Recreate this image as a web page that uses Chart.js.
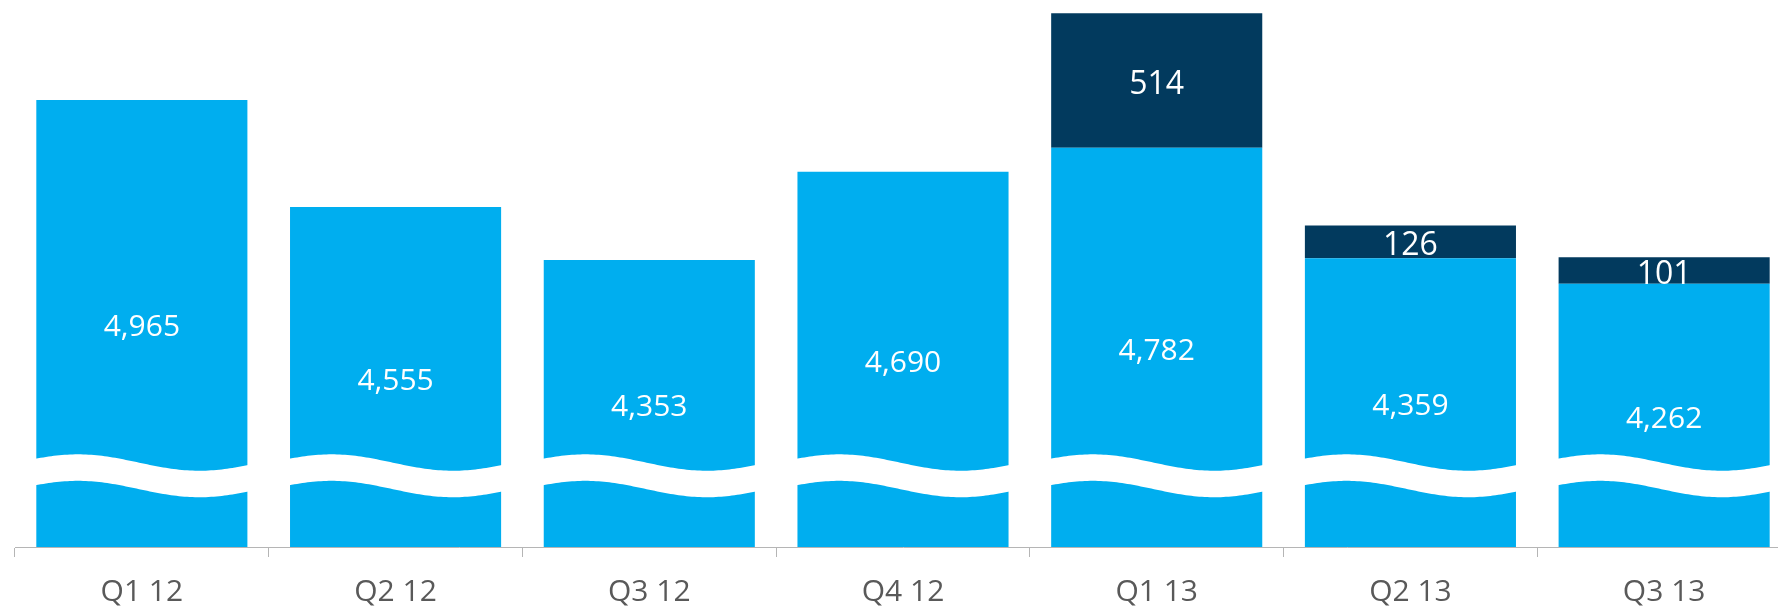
<!DOCTYPE html>
<html>
<head>
<meta charset="utf-8">
<script src="https://cdn.jsdelivr.net/npm/chart.js@4"></script>
<style>
  html, body { margin: 0; padding: 0; background: #ffffff; overflow: hidden; width: 1778px; height: 608px; }
  #wrap { position: absolute; left: 0; top: 0; width: 1800px; height: 640px; }
  canvas { display: block; }
</style>
</head>
<body>
<div id="wrap"><canvas id="c" width="1800" height="640"></canvas></div>
<script>
// ---- data ----
const categories = ['Q1 12', 'Q2 12', 'Q3 12', 'Q4 12', 'Q1 13', 'Q2 13', 'Q3 13'];
const baseValues = [4965, 4555, 4353, 4690, 4782, 4359, 4262];
const extraValues = [null, null, null, null, 514, 126, 101];
const axisMin = 3255;
const axisMax = 5347;
const breakValue = 3578; // where the wavy axis break sits (broken axis)

const fmt = v => v.toLocaleString('en-US');

const breakPlugin = {
  id: 'breakWaveAndLabels',
  afterDatasetsDraw(chart) {
    const ctx = chart.ctx;
    const yScale = chart.scales.y;
    const area = chart.chartArea;
    const yc = yScale.getPixelForValue(breakValue);
    const A = 8.2, thick = 26.5;
    const wave = t => yc - A * Math.cos(Math.PI * (t - 0.2) / 0.57);
    ctx.save();
    // white wavy break band across base bars
    ctx.fillStyle = '#ffffff';
    chart.getDatasetMeta(0).data.forEach(bar => {
      const p = bar.getProps(['x', 'width'], true);
      const x0 = p.x - p.width / 2 - 1, x1 = p.x + p.width / 2 + 1;
      const N = 80;
      ctx.beginPath();
      for (let i = 0; i <= N; i++) {
        const t = i / N;
        const px = x0 + t * (x1 - x0);
        const py = wave(t);
        if (i === 0) ctx.moveTo(px, py); else ctx.lineTo(px, py);
      }
      for (let i = N; i >= 0; i--) {
        const t = i / N;
        ctx.lineTo(x0 + t * (x1 - x0), wave(t) + thick);
      }
      ctx.closePath();
      ctx.fill();
    });
    // value labels
    ctx.fillStyle = '#ffffff';
    ctx.textAlign = 'center';
    ctx.textBaseline = 'middle';
    chart.data.datasets.forEach((ds, di) => {
      const meta = chart.getDatasetMeta(di);
      ctx.font = (di === 0 ? '30px' : '32px') + ' "Open Sans", sans-serif';
      meta.data.forEach((bar, i) => {
        const v = ds.data[i];
        if (v === null || v === undefined) return;
        const p = bar.getProps(['x', 'y', 'base'], true);
        const top = Math.max(p.y, area.top);
        const bottom = Math.min(p.base, area.bottom);
        ctx.fillText(fmt(v), p.x, (top + bottom) / 2 + 4);
      });
    });
    ctx.restore();
  }
};

new Chart(document.getElementById('c'), {
  type: 'bar',
  data: {
    labels: categories,
    datasets: [
      { label: 'base', data: baseValues, backgroundColor: '#00AEEF', borderWidth: 0,
        barPercentage: 0.832, categoryPercentage: 1.0 },
      { label: 'extra', data: extraValues, backgroundColor: '#023A5E', borderWidth: 0,
        barPercentage: 0.832, categoryPercentage: 1.0 }
    ]
  },
  options: {
    responsive: false,
    devicePixelRatio: 1,
    animation: false,
    layout: { padding: { left: 15, right: 9, top: 0, bottom: 13 } },
    plugins: { legend: { display: false }, tooltip: { enabled: false } },
    scales: {
      x: {
        stacked: true,
        grid: { offset: true, drawOnChartArea: false, drawTicks: true, tickLength: 10, color: '#b5b5b5', lineWidth: 1 },
        border: { display: true, color: '#b5b5b5', width: 1 },
        ticks: { font: { family: 'Open Sans', size: 30 }, color: '#595959', padding: 17 }
      },
      y: { display: false, stacked: true, min: axisMin, max: axisMax }
    }
  },
  plugins: [breakPlugin]
});
</script>
</body>
</html>
